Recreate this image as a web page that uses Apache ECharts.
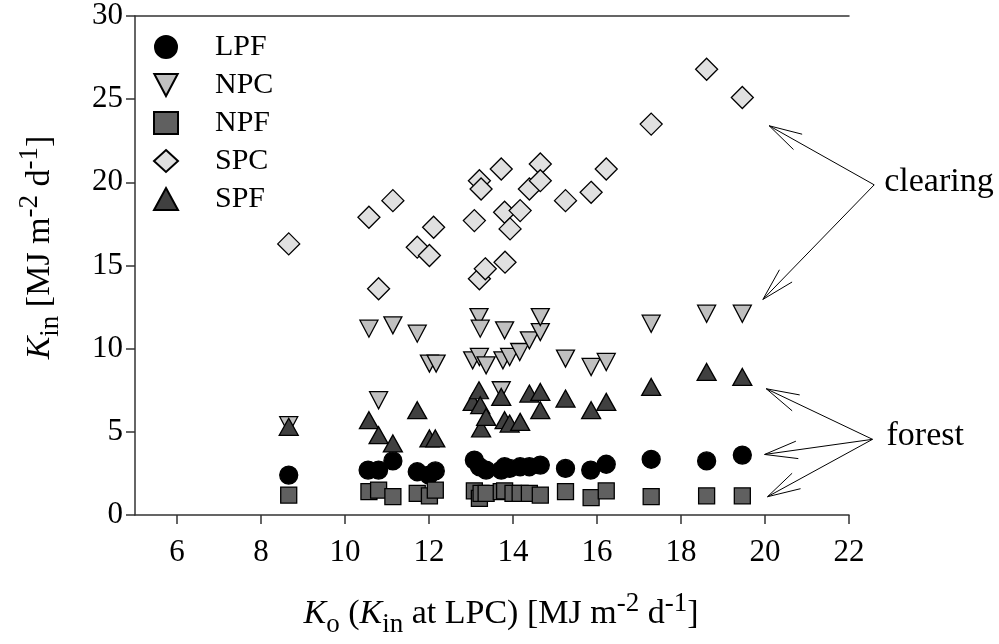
<!DOCTYPE html>
<html>
<head>
<meta charset="utf-8">
<script src="https://cdn.jsdelivr.net/npm/echarts@6/dist/echarts.min.js"></script>
<style>
  html, body { margin: 0; padding: 0; background: #fff; }
  #chart { width: 999px; height: 644px; }
</style>
</head>
<body>
<div id="chart"></div>
<script>
// K_o on x, K_in on y, per site
var lpf = [[8.66,2.4],[10.55,2.7],[10.8,2.7],[11.14,3.25],[11.72,2.6],[12.0,2.4],[12.15,2.65],
  [13.08,3.3],[13.2,2.9],[13.36,2.7],[13.72,2.7],[13.8,2.9],[13.92,2.8],[14.17,2.9],[14.39,2.9],
  [14.65,3.0],[15.25,2.8],[15.85,2.7],[16.22,3.05],[17.29,3.35],[18.61,3.25],[19.46,3.6]];
var npc = [[8.66,5.4],[10.57,11.2],[10.8,6.9],[11.14,11.4],[11.72,10.9],[12.01,9.1],[12.17,9.1],
  [13.04,9.3],[13.19,11.9],[13.2,9.5],[13.22,11.2],[13.36,9.0],[13.72,7.5],[13.76,9.3],[13.8,11.1],
  [13.92,9.5],[14.16,9.8],[14.39,10.5],[14.65,11.0],[14.65,11.9],[15.25,9.4],[15.86,8.9],
  [16.22,9.2],[17.29,11.5],[18.61,12.1],[19.46,12.1]];
var npf = [[8.66,1.2],[10.57,1.4],[10.8,1.5],[11.14,1.1],[11.72,1.3],[12.01,1.15],[12.15,1.5],
  [13.08,1.45],[13.2,1.0],[13.24,1.3],[13.36,1.3],[13.72,1.4],[13.8,1.45],[14.0,1.3],[14.17,1.3],
  [14.39,1.3],[14.65,1.2],[15.25,1.4],[15.86,1.05],[16.22,1.45],[17.29,1.1],[18.61,1.15],[19.46,1.15]];
var spc = [[8.66,16.3],[10.57,17.9],[10.8,13.6],[11.14,18.9],[11.72,16.1],[12.01,15.6],[12.11,17.3],
  [13.08,17.7],[13.2,20.1],[13.24,19.6],[13.2,14.2],[13.34,14.8],[13.72,20.8],[13.8,18.2],
  [13.81,15.2],[13.93,17.2],[14.17,18.3],[14.39,19.6],[14.65,21.1],[14.65,20.1],[15.25,18.9],
  [15.86,19.4],[16.22,20.8],[17.29,23.5],[18.61,26.8],[19.46,25.1]];
var spf = [[8.66,5.3],[10.57,5.7],[10.8,4.8],[11.14,4.3],[11.72,6.3],[12.01,4.6],[12.15,4.6],
  [13.04,6.8],[13.19,7.5],[13.22,6.6],[13.24,5.2],[13.36,5.9],[13.72,7.1],[13.8,5.7],[13.92,5.5],
  [14.17,5.6],[14.39,7.3],[14.65,7.4],[14.65,6.3],[15.25,7.0],[15.86,6.3],[16.22,6.8],
  [17.29,7.7],[18.61,8.6],[19.46,8.3]];

var xTicks = [6, 8, 10, 12, 14, 16, 18, 20, 22];
var yTicks = [0, 5, 10, 15, 20, 25, 30];

// annotation arrows, in data units: [from, to]
var clearingArrows = [[[22.6, 19.85], [20.1, 23.4]], [[22.6, 19.85], [19.95, 12.96]]];
var forestArrows = [[[22.56, 4.55], [20.03, 7.59]], [[22.56, 4.55], [19.99, 3.64]], [[22.56, 4.55], [20.06, 1.1]]];

var font = "'Liberation Serif', 'DejaVu Serif', serif";
var rich = {
  k: { fontStyle: "italic", fontSize: 34, fontFamily: font, lineHeight: 48 },
  sub: { fontSize: 27, fontFamily: font, verticalAlign: "bottom", lineHeight: 48 },
  sup: { fontSize: 27, fontFamily: font, verticalAlign: "top", lineHeight: 48 }
};

var myChart = echarts.init(document.getElementById("chart"));

function scatter(name, data, symbol, size, color) {
  return {
    name: name,
    type: "scatter",
    data: data,
    symbol: symbol,
    symbolSize: size,
    symbolKeepAspect: false,
    itemStyle: { color: color, borderColor: "#000", borderWidth: 1.3, opacity: 1 },
    emphasis: { disabled: true }
  };
}

myChart.setOption({
  animation: false,
  grid: { left: 135, right: 150, top: 16, bottom: 129 },
  legend: {
    orient: "vertical",
    left: 148,
    top: 27,
    itemWidth: 24,
    itemHeight: 22,
    itemGap: 8,
    textStyle: { fontFamily: font, fontSize: 30, color: "#000", padding: [0, 0, 0, 32] },
    data: ["LPF", "NPC", "NPF", "SPC", "SPF"]
  },
  xAxis: [
    {
      type: "value",
      min: 5,
      max: 22,
      name: "{k|K}{sub|o} ({k|K}{sub|in} at LPC) [MJ m{sup|-2} d{sup|-1}]",
      nameLocation: "middle",
      nameGap: 75,
      nameTextStyle: { fontFamily: font, fontSize: 34, color: "#000", lineHeight: 48, rich: rich, padding: [0, 0, 0, 18] },
      splitLine: { show: false },
      axisLine: { lineStyle: { color: "#333", width: 1.5 } },
      axisTick: { inside: false, length: 9, lineStyle: { color: "#333", width: 1.5 }, customValues: xTicks },
      axisLabel: { fontFamily: font, fontSize: 31, color: "#000", margin: 22, customValues: xTicks }
    },
    {
      type: "value",
      position: "top",
      min: 5,
      max: 22,
      axisLine: { show: true, lineStyle: { color: "#333", width: 1.5 } },
      axisTick: { show: false },
      axisLabel: { show: false },
      splitLine: { show: false }
    }
  ],
  yAxis: {
    type: "value",
    min: 0,
    max: 30,
    interval: 5,
    name: "{k|K}{sub|in} [MJ m{sup|-2} d{sup|-1}]",
    nameLocation: "middle",
    nameGap: 71,
    nameTextStyle: { fontFamily: font, fontSize: 34, color: "#000", lineHeight: 48, rich: rich, padding: [0, 0, 0, 36] },
    splitLine: { show: false },
    axisLine: { show: true, lineStyle: { color: "#333", width: 1.5 } },
    axisTick: { show: true, length: 9, lineStyle: { color: "#333", width: 1.5 }, customValues: yTicks },
    axisLabel: { fontFamily: font, fontSize: 31, color: "#000", margin: 12, customValues: yTicks }
  },
  series: [
    scatter("LPF", lpf, "circle", 18, "#000"),
    scatter("NPC", npc, "path://M0,0L10,0L5,9.4Z", [18, 17], "#c0c0c0"),
    scatter("NPF", npf, "rect", 16, "#606060"),
    scatter("SPC", spc, "diamond", 22, "#e0e0e0"),
    scatter("SPF", spf, "triangle", [19, 17], "#404040")
  ]
});

// annotation arrows and labels, positioned through the axes
function arrowShapes(pairs) {
  var out = [];
  pairs.forEach(function (p) {
    var a = myChart.convertToPixel({ gridIndex: 0 }, p[0]);
    var b = myChart.convertToPixel({ gridIndex: 0 }, p[1]);
    var ang = Math.atan2(a[1] - b[1], a[0] - b[0]);
    var len = 34, spread = 15 * Math.PI / 180;
    var style = { stroke: "#000", lineWidth: 1, fill: null };
    out.push({ type: "line", shape: { x1: a[0], y1: a[1], x2: b[0], y2: b[1] }, style: style, silent: true });
    [ang - spread, ang + spread].forEach(function (t) {
      out.push({
        type: "line",
        shape: { x1: b[0], y1: b[1], x2: b[0] + len * Math.cos(t), y2: b[1] + len * Math.sin(t) },
        style: style,
        silent: true
      });
    });
  });
  return out;
}

var cPos = myChart.convertToPixel({ gridIndex: 0 }, clearingArrows[0][0]);
var fPos = myChart.convertToPixel({ gridIndex: 0 }, forestArrows[0][0]);
var graphics = arrowShapes(clearingArrows).concat(arrowShapes(forestArrows));
graphics.push({
  type: "text", left: cPos[0] + 10, top: cPos[1] - 20,
  style: { text: "clearing", fontFamily: font, fontSize: 34, fill: "#000" }
});
graphics.push({
  type: "text", left: fPos[0] + 14, top: fPos[1] - 20,
  style: { text: "forest", fontFamily: font, fontSize: 34, fill: "#000" }
});
myChart.setOption({ graphic: graphics });
</script>
</body>
</html>
